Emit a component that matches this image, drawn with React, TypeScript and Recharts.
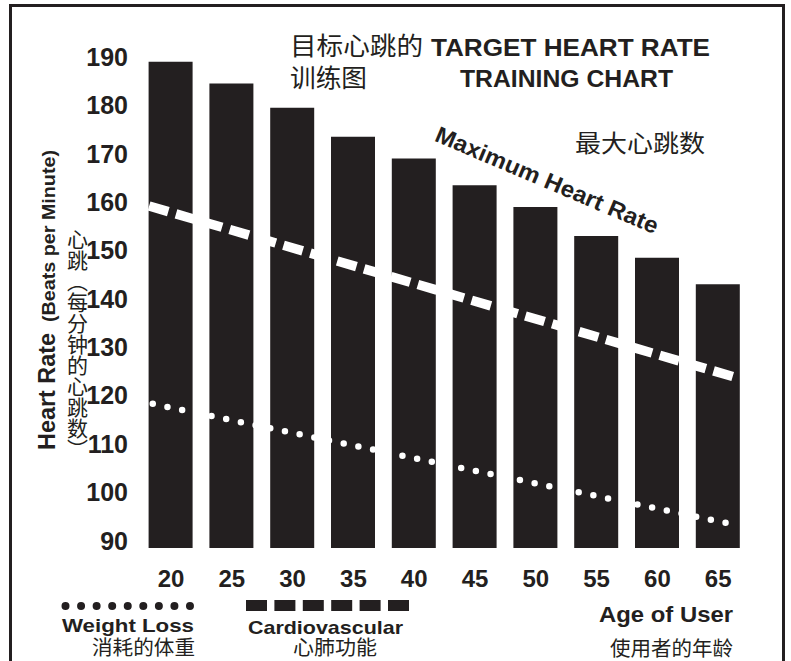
import { ComposedChart, Bar, Line, XAxis, YAxis } from "recharts";

const ages = [20, 25, 30, 35, 40, 45, 50, 55, 60, 65];
const maxHeartRate = [189, 184.5, 179.5, 173.5, 169, 163.5, 159, 153, 148.5, 143];
const rateTicks = [90, 100, 110, 120, 130, 140, 150, 160, 170, 180, 190];

// the two target zones are straight lines, read at their ends
const cardioAges = [18.2, 66.8];
const cardioRate = [159.2, 123.5];
const weightLossAges = [18.5, 66.4];
const weightLossRate = [118.3, 93.3];

const INK = "#231f20";
const LATIN = "'Liberation Sans', Arial, sans-serif";
const CJK = "'Noto Sans CJK SC', sans-serif";
const AGE_DOMAIN: [number, number] = [17.5, 67.5];

const barData = ages.map((age, i) => ({ age, max: maxHeartRate[i] }));
const cardioData = cardioAges.map((age, i) => ({ age, rate: cardioRate[i] }));
const weightLossData = weightLossAges.map((age, i) => ({ age, rate: weightLossRate[i] }));

function Annotations() {
    const bold = { fontFamily: LATIN, fontWeight: "bold" as const, fill: INK };
    const cjk = { fontFamily: CJK, fill: INK };
    return (
        <svg width={791} height={661} style={{ position: "absolute", left: 0, top: 0, pointerEvents: "none" }}>
            <rect x={10.5} y={5.5} width={773} height={700} fill="none" stroke={INK} strokeWidth={3} />

            <text x={290} y={55} fontSize={24.5} textLength={133} lengthAdjust="spacingAndGlyphs" {...cjk}>目标心跳的</text>
            <text x={431} y={56} fontSize={23} textLength={279} lengthAdjust="spacingAndGlyphs" {...bold}>TARGET HEART RATE</text>
            <text x={290} y={87} fontSize={24.5} textLength={77} lengthAdjust="spacingAndGlyphs" {...cjk}>训练图</text>
            <text x={460} y={87} fontSize={23} textLength={213} lengthAdjust="spacingAndGlyphs" {...bold}>TRAINING CHART</text>

            <text x={575} y={151.5} fontSize={24} textLength={130} lengthAdjust="spacingAndGlyphs" {...cjk}>最大心跳数</text>
            <text x={547} y={188} fontSize={23} textAnchor="middle" textLength={240} lengthAdjust="spacingAndGlyphs"
                transform="rotate(23 547 180)" {...bold}>Maximum Heart Rate</text>

            <text x={-450} y={55} fontSize={24} textLength={117} lengthAdjust="spacingAndGlyphs"
                transform="rotate(-90)" {...bold}>Heart Rate</text>
            <text x={-322} y={55} fontSize={19} textLength={172} lengthAdjust="spacingAndGlyphs"
                transform="rotate(-90)" {...bold}>(Beats per Minute)</text>
            <text x={77.5} y={229} fontSize={21} textLength={231} lengthAdjust="spacing"
                style={{ writingMode: "vertical-rl" }} {...cjk}>心跳（每分钟的心跳数）</text>

            <line x1={65.5} y1={606} x2={190} y2={606} stroke={INK} strokeWidth={8} strokeLinecap="round" strokeDasharray="0 15.56" />
            <line x1={246} y1={605.5} x2={409} y2={605.5} stroke={INK} strokeWidth={11} strokeDasharray="21 7.4" />

            <text x={62} y={631.5} fontSize={18.5} textLength={132} lengthAdjust="spacingAndGlyphs" {...bold}>Weight Loss</text>
            <text x={92} y={654.5} fontSize={20} textLength={103} lengthAdjust="spacingAndGlyphs" {...cjk}>消耗的体重</text>
            <text x={248} y={633.5} fontSize={19} textLength={155} lengthAdjust="spacingAndGlyphs" {...bold}>Cardiovascular</text>
            <text x={293} y={655} fontSize={20} textLength={84} lengthAdjust="spacingAndGlyphs" {...cjk}>心肺功能</text>
            <text x={599} y={621.5} fontSize={21.5} textLength={134} lengthAdjust="spacingAndGlyphs" {...bold}>Age of User</text>
            <text x={610} y={655.5} fontSize={20.5} textLength={123} lengthAdjust="spacingAndGlyphs" {...cjk}>使用者的年龄</text>
        </svg>
    );
}

export default function App() {
    const tick = { fill: INK, fontFamily: LATIN, fontWeight: "bold", fontSize: 25 };
    return (
        <div style={{ position: "absolute", left: 0, top: 0, width: 791, height: 661, background: "#fff" }}>
            <ComposedChart
                width={791}
                height={661}
                data={barData}
                margin={{ top: 57, right: 42.4, bottom: 73, left: 60.6 }}
            >
                <XAxis
                    dataKey="age"
                    type="number"
                    domain={AGE_DOMAIN}
                    allowDataOverflow
                    ticks={ages}
                    interval={0}
                    height={40}
                    axisLine={false}
                    tickLine={false}
                    tickSize={0}
                    tickMargin={22}
                    tick={{ ...tick, fontSize: 24 }}
                />
                <XAxis
                    xAxisId="zone"
                    dataKey="age"
                    type="number"
                    domain={AGE_DOMAIN}
                    allowDataOverflow
                    hide
                />
                <YAxis
                    type="number"
                    domain={[88.5, 190]}
                    allowDataOverflow
                    ticks={rateTicks}
                    interval={0}
                    width={80}
                    axisLine={false}
                    tickLine={false}
                    tickSize={0}
                    tickMargin={12.6}
                    tick={tick}
                />
                <Bar dataKey="max" fill={INK} barSize={44} isAnimationActive={false} />
                <Line
                    xAxisId="zone"
                    data={cardioData}
                    dataKey="rate"
                    stroke="#fff"
                    strokeWidth={9.5}
                    strokeDasharray="20 8"
                    dot={false}
                    activeDot={false}
                    type="linear"
                    isAnimationActive={false}
                />
                <Line
                    xAxisId="zone"
                    data={weightLossData}
                    dataKey="rate"
                    stroke="#fff"
                    strokeWidth={6.5}
                    strokeLinecap="round"
                    strokeDasharray="0 15"
                    dot={false}
                    activeDot={false}
                    type="linear"
                    isAnimationActive={false}
                />
            </ComposedChart>
            <Annotations />
        </div>
    );
}
